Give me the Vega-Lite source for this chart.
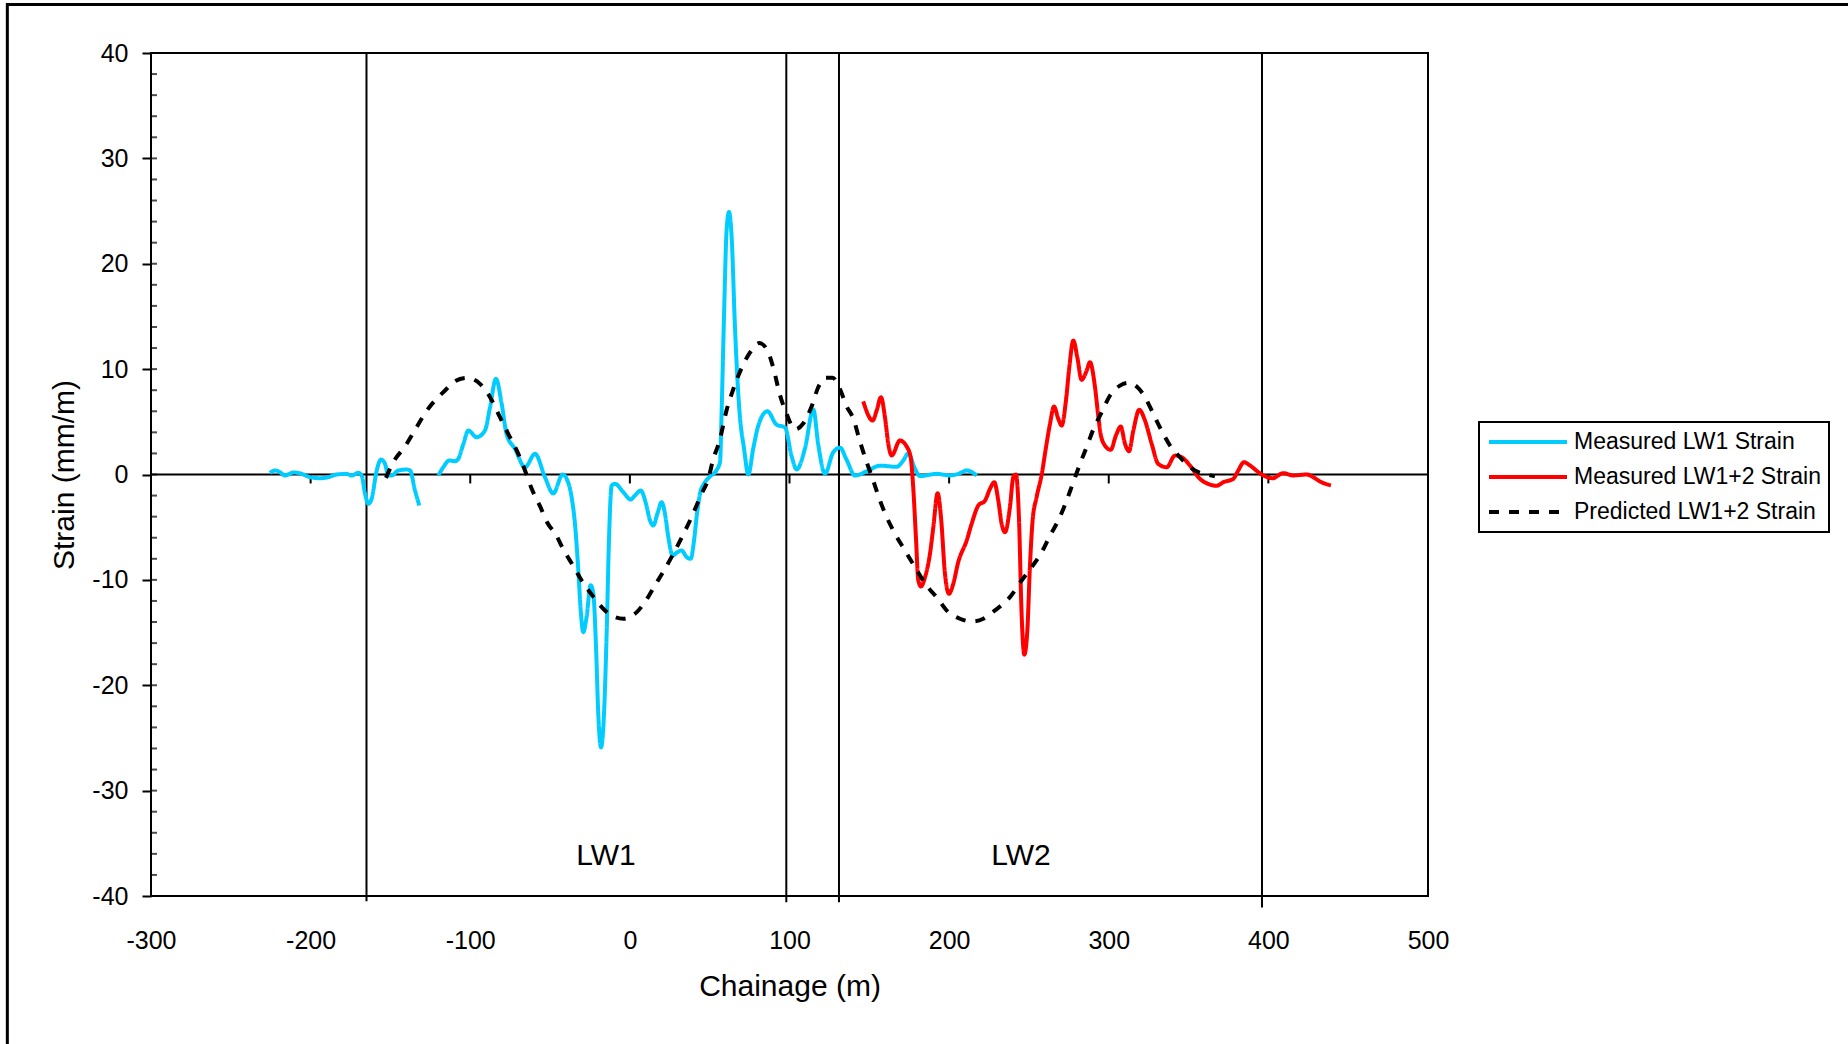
{
  "$schema": "https://vega.github.io/schema/vega-lite/v6.json",
  "autosize": {"type": "none"},
  "width": 1277,
  "height": 843,
  "padding": {"left": 151, "top": 53, "right": 420, "bottom": 148},
  "background": "white",
  "config": {
    "font": "Liberation Sans",
    "view": {"stroke": "black", "strokeWidth": 2},
    "axis": {"labelColor": "black", "titleColor": "black", "titleFontWeight": "normal", "grid": false},
    "legend": {"strokeWidth": 2}
  },
  "datasets": {
    "strain": [
      {"series": "Measured LW1 Strain", "seg": "a", "x": -225.5, "y": 0.16},
      {"series": "Measured LW1 Strain", "seg": "a", "x": -222.3, "y": 0.38},
      {"series": "Measured LW1 Strain", "seg": "a", "x": -219.2, "y": 0.22},
      {"series": "Measured LW1 Strain", "seg": "a", "x": -216.1, "y": -0.09},
      {"series": "Measured LW1 Strain", "seg": "a", "x": -210.8, "y": 0.19},
      {"series": "Measured LW1 Strain", "seg": "a", "x": -205.6, "y": 0.06},
      {"series": "Measured LW1 Strain", "seg": "a", "x": -200.4, "y": -0.25},
      {"series": "Measured LW1 Strain", "seg": "a", "x": -194.1, "y": -0.35},
      {"series": "Measured LW1 Strain", "seg": "a", "x": -188.9, "y": -0.25},
      {"series": "Measured LW1 Strain", "seg": "a", "x": -183.7, "y": 0.0},
      {"series": "Measured LW1 Strain", "seg": "a", "x": -177.4, "y": 0.06},
      {"series": "Measured LW1 Strain", "seg": "a", "x": -174.3, "y": -0.1},
      {"series": "Measured LW1 Strain", "seg": "a", "x": -170.1, "y": 0.16},
      {"series": "Measured LW1 Strain", "seg": "a", "x": -168.0, "y": -0.1},
      {"series": "Measured LW1 Strain", "seg": "a", "x": -165.9, "y": -1.83},
      {"series": "Measured LW1 Strain", "seg": "a", "x": -163.8, "y": -2.78},
      {"series": "Measured LW1 Strain", "seg": "a", "x": -161.8, "y": -2.31},
      {"series": "Measured LW1 Strain", "seg": "a", "x": -158.6, "y": 0.38},
      {"series": "Measured LW1 Strain", "seg": "a", "x": -155.9, "y": 1.42},
      {"series": "Measured LW1 Strain", "seg": "a", "x": -153.4, "y": 1.01},
      {"series": "Measured LW1 Strain", "seg": "a", "x": -151.3, "y": -0.09},
      {"series": "Measured LW1 Strain", "seg": "a", "x": -149.2, "y": -0.09},
      {"series": "Measured LW1 Strain", "seg": "a", "x": -145.1, "y": 0.38},
      {"series": "Measured LW1 Strain", "seg": "a", "x": -139.8, "y": 0.47},
      {"series": "Measured LW1 Strain", "seg": "a", "x": -137.7, "y": 0.38},
      {"series": "Measured LW1 Strain", "seg": "a", "x": -134.6, "y": -1.52},
      {"series": "Measured LW1 Strain", "seg": "a", "x": -131.9, "y": -2.94},
      {"series": "Measured LW1 Strain", "seg": "b", "x": -120.0, "y": -0.09},
      {"series": "Measured LW1 Strain", "seg": "b", "x": -116.9, "y": 0.69},
      {"series": "Measured LW1 Strain", "seg": "b", "x": -113.1, "y": 1.33},
      {"series": "Measured LW1 Strain", "seg": "b", "x": -109.6, "y": 1.26},
      {"series": "Measured LW1 Strain", "seg": "b", "x": -107.5, "y": 1.49},
      {"series": "Measured LW1 Strain", "seg": "b", "x": -104.3, "y": 2.91},
      {"series": "Measured LW1 Strain", "seg": "b", "x": -101.2, "y": 4.17},
      {"series": "Measured LW1 Strain", "seg": "b", "x": -96.0, "y": 3.54},
      {"series": "Measured LW1 Strain", "seg": "b", "x": -90.8, "y": 4.17},
      {"series": "Measured LW1 Strain", "seg": "b", "x": -87.6, "y": 6.39},
      {"series": "Measured LW1 Strain", "seg": "b", "x": -83.9, "y": 9.08},
      {"series": "Measured LW1 Strain", "seg": "b", "x": -80.3, "y": 6.7},
      {"series": "Measured LW1 Strain", "seg": "b", "x": -77.2, "y": 3.8},
      {"series": "Measured LW1 Strain", "seg": "b", "x": -72.0, "y": 2.44},
      {"series": "Measured LW1 Strain", "seg": "b", "x": -65.7, "y": 0.69},
      {"series": "Measured LW1 Strain", "seg": "b", "x": -59.4, "y": 1.96},
      {"series": "Measured LW1 Strain", "seg": "b", "x": -53.2, "y": -0.25},
      {"series": "Measured LW1 Strain", "seg": "b", "x": -48.0, "y": -1.8},
      {"series": "Measured LW1 Strain", "seg": "b", "x": -42.1, "y": 0.0},
      {"series": "Measured LW1 Strain", "seg": "b", "x": -39.6, "y": -0.41},
      {"series": "Measured LW1 Strain", "seg": "b", "x": -36.5, "y": -2.15},
      {"series": "Measured LW1 Strain", "seg": "b", "x": -34.4, "y": -4.68},
      {"series": "Measured LW1 Strain", "seg": "b", "x": -32.3, "y": -9.1},
      {"series": "Measured LW1 Strain", "seg": "b", "x": -30.8, "y": -12.9},
      {"series": "Measured LW1 Strain", "seg": "b", "x": -29.2, "y": -14.96},
      {"series": "Measured LW1 Strain", "seg": "b", "x": -27.1, "y": -13.5},
      {"series": "Measured LW1 Strain", "seg": "b", "x": -24.6, "y": -10.5},
      {"series": "Measured LW1 Strain", "seg": "b", "x": -22.9, "y": -11.3},
      {"series": "Measured LW1 Strain", "seg": "b", "x": -21.2, "y": -16.4},
      {"series": "Measured LW1 Strain", "seg": "b", "x": -19.8, "y": -22.7},
      {"series": "Measured LW1 Strain", "seg": "b", "x": -18.1, "y": -25.9},
      {"series": "Measured LW1 Strain", "seg": "b", "x": -16.2, "y": -22.7},
      {"series": "Measured LW1 Strain", "seg": "b", "x": -14.5, "y": -14.8},
      {"series": "Measured LW1 Strain", "seg": "b", "x": -13.1, "y": -6.26},
      {"series": "Measured LW1 Strain", "seg": "b", "x": -11.4, "y": -1.04},
      {"series": "Measured LW1 Strain", "seg": "b", "x": -9.3, "y": -0.89},
      {"series": "Measured LW1 Strain", "seg": "b", "x": -4.1, "y": -1.68},
      {"series": "Measured LW1 Strain", "seg": "b", "x": 0.5, "y": -2.37},
      {"series": "Measured LW1 Strain", "seg": "b", "x": 3.2, "y": -1.99},
      {"series": "Measured LW1 Strain", "seg": "b", "x": 6.8, "y": -1.52},
      {"series": "Measured LW1 Strain", "seg": "b", "x": 10.1, "y": -2.78},
      {"series": "Measured LW1 Strain", "seg": "b", "x": 12.6, "y": -4.36},
      {"series": "Measured LW1 Strain", "seg": "b", "x": 14.7, "y": -4.84},
      {"series": "Measured LW1 Strain", "seg": "b", "x": 17.2, "y": -3.73},
      {"series": "Measured LW1 Strain", "seg": "b", "x": 19.9, "y": -2.63},
      {"series": "Measured LW1 Strain", "seg": "b", "x": 22.0, "y": -3.73},
      {"series": "Measured LW1 Strain", "seg": "b", "x": 24.1, "y": -5.95},
      {"series": "Measured LW1 Strain", "seg": "b", "x": 26.8, "y": -7.69},
      {"series": "Measured LW1 Strain", "seg": "b", "x": 29.7, "y": -7.37},
      {"series": "Measured LW1 Strain", "seg": "b", "x": 32.4, "y": -7.21},
      {"series": "Measured LW1 Strain", "seg": "b", "x": 35.6, "y": -7.85},
      {"series": "Measured LW1 Strain", "seg": "b", "x": 38.1, "y": -8.0},
      {"series": "Measured LW1 Strain", "seg": "b", "x": 40.2, "y": -6.26},
      {"series": "Measured LW1 Strain", "seg": "b", "x": 41.8, "y": -4.05},
      {"series": "Measured LW1 Strain", "seg": "b", "x": 43.9, "y": -1.83},
      {"series": "Measured LW1 Strain", "seg": "b", "x": 46.4, "y": -0.89},
      {"series": "Measured LW1 Strain", "seg": "b", "x": 50.2, "y": -0.19},
      {"series": "Measured LW1 Strain", "seg": "b", "x": 54.4, "y": 0.44},
      {"series": "Measured LW1 Strain", "seg": "b", "x": 56.5, "y": 1.2},
      {"series": "Measured LW1 Strain", "seg": "b", "x": 57.5, "y": 6.1},
      {"series": "Measured LW1 Strain", "seg": "b", "x": 59.0, "y": 15.2},
      {"series": "Measured LW1 Strain", "seg": "b", "x": 60.6, "y": 23.2},
      {"series": "Measured LW1 Strain", "seg": "b", "x": 62.1, "y": 24.9},
      {"series": "Measured LW1 Strain", "seg": "b", "x": 63.8, "y": 22.4},
      {"series": "Measured LW1 Strain", "seg": "b", "x": 65.8, "y": 14.1},
      {"series": "Measured LW1 Strain", "seg": "b", "x": 68.6, "y": 6.1},
      {"series": "Measured LW1 Strain", "seg": "b", "x": 71.5, "y": 2.48},
      {"series": "Measured LW1 Strain", "seg": "b", "x": 74.2, "y": 0.0},
      {"series": "Measured LW1 Strain", "seg": "b", "x": 77.3, "y": 2.48},
      {"series": "Measured LW1 Strain", "seg": "b", "x": 80.5, "y": 4.66},
      {"series": "Measured LW1 Strain", "seg": "b", "x": 86.1, "y": 6.0},
      {"series": "Measured LW1 Strain", "seg": "b", "x": 91.9, "y": 4.73},
      {"series": "Measured LW1 Strain", "seg": "b", "x": 97.2, "y": 4.47},
      {"series": "Measured LW1 Strain", "seg": "b", "x": 101.3, "y": 1.75},
      {"series": "Measured LW1 Strain", "seg": "b", "x": 104.5, "y": 0.48},
      {"series": "Measured LW1 Strain", "seg": "b", "x": 109.7, "y": 2.48},
      {"series": "Measured LW1 Strain", "seg": "b", "x": 114.9, "y": 6.18},
      {"series": "Measured LW1 Strain", "seg": "b", "x": 118.0, "y": 2.85},
      {"series": "Measured LW1 Strain", "seg": "b", "x": 122.2, "y": 0.07},
      {"series": "Measured LW1 Strain", "seg": "b", "x": 127.4, "y": 2.11},
      {"series": "Measured LW1 Strain", "seg": "b", "x": 131.6, "y": 2.55},
      {"series": "Measured LW1 Strain", "seg": "b", "x": 135.8, "y": 1.39},
      {"series": "Measured LW1 Strain", "seg": "b", "x": 141.0, "y": -0.1},
      {"series": "Measured LW1 Strain", "seg": "b", "x": 148.3, "y": 0.3},
      {"series": "Measured LW1 Strain", "seg": "b", "x": 156.7, "y": 0.84},
      {"series": "Measured LW1 Strain", "seg": "b", "x": 167.1, "y": 0.73},
      {"series": "Measured LW1 Strain", "seg": "b", "x": 171.3, "y": 1.33},
      {"series": "Measured LW1 Strain", "seg": "b", "x": 174.4, "y": 2.0},
      {"series": "Measured LW1 Strain", "seg": "b", "x": 178.6, "y": 0.54},
      {"series": "Measured LW1 Strain", "seg": "b", "x": 181.7, "y": -0.15},
      {"series": "Measured LW1 Strain", "seg": "b", "x": 192.2, "y": 0.06},
      {"series": "Measured LW1 Strain", "seg": "b", "x": 200.5, "y": -0.09},
      {"series": "Measured LW1 Strain", "seg": "b", "x": 205.7, "y": 0.06},
      {"series": "Measured LW1 Strain", "seg": "b", "x": 211.0, "y": 0.38},
      {"series": "Measured LW1 Strain", "seg": "b", "x": 217.3, "y": -0.09},
      {"series": "Measured LW1+2 Strain", "seg": "c", "x": 146.2, "y": 6.93},
      {"series": "Measured LW1+2 Strain", "seg": "c", "x": 152.1, "y": 5.12},
      {"series": "Measured LW1+2 Strain", "seg": "c", "x": 154.6, "y": 6.07},
      {"series": "Measured LW1+2 Strain", "seg": "c", "x": 157.3, "y": 7.34},
      {"series": "Measured LW1+2 Strain", "seg": "c", "x": 159.8, "y": 5.44},
      {"series": "Measured LW1+2 Strain", "seg": "c", "x": 161.9, "y": 2.91},
      {"series": "Measured LW1+2 Strain", "seg": "c", "x": 164.0, "y": 1.8},
      {"series": "Measured LW1+2 Strain", "seg": "c", "x": 169.2, "y": 3.23},
      {"series": "Measured LW1+2 Strain", "seg": "c", "x": 173.4, "y": 2.66},
      {"series": "Measured LW1+2 Strain", "seg": "c", "x": 175.9, "y": 1.64},
      {"series": "Measured LW1+2 Strain", "seg": "c", "x": 177.5, "y": -1.2},
      {"series": "Measured LW1+2 Strain", "seg": "c", "x": 179.2, "y": -5.95},
      {"series": "Measured LW1+2 Strain", "seg": "c", "x": 180.7, "y": -10.06},
      {"series": "Measured LW1+2 Strain", "seg": "c", "x": 182.4, "y": -10.63},
      {"series": "Measured LW1+2 Strain", "seg": "c", "x": 184.9, "y": -9.74},
      {"series": "Measured LW1+2 Strain", "seg": "c", "x": 188.0, "y": -7.53},
      {"series": "Measured LW1+2 Strain", "seg": "c", "x": 190.1, "y": -5.0},
      {"series": "Measured LW1+2 Strain", "seg": "c", "x": 192.8, "y": -1.77},
      {"series": "Measured LW1+2 Strain", "seg": "c", "x": 194.9, "y": -4.05},
      {"series": "Measured LW1+2 Strain", "seg": "c", "x": 197.4, "y": -9.42},
      {"series": "Measured LW1+2 Strain", "seg": "c", "x": 199.9, "y": -11.32},
      {"series": "Measured LW1+2 Strain", "seg": "c", "x": 202.6, "y": -10.37},
      {"series": "Measured LW1+2 Strain", "seg": "c", "x": 205.7, "y": -8.32},
      {"series": "Measured LW1+2 Strain", "seg": "c", "x": 211.0, "y": -6.26},
      {"series": "Measured LW1+2 Strain", "seg": "c", "x": 214.1, "y": -4.68},
      {"series": "Measured LW1+2 Strain", "seg": "c", "x": 218.3, "y": -2.94},
      {"series": "Measured LW1+2 Strain", "seg": "c", "x": 222.5, "y": -2.47},
      {"series": "Measured LW1+2 Strain", "seg": "c", "x": 225.6, "y": -1.36},
      {"series": "Measured LW1+2 Strain", "seg": "c", "x": 228.3, "y": -0.73},
      {"series": "Measured LW1+2 Strain", "seg": "c", "x": 230.8, "y": -2.47},
      {"series": "Measured LW1+2 Strain", "seg": "c", "x": 232.9, "y": -4.68},
      {"series": "Measured LW1+2 Strain", "seg": "c", "x": 235.0, "y": -5.47},
      {"series": "Measured LW1+2 Strain", "seg": "c", "x": 238.1, "y": -3.1},
      {"series": "Measured LW1+2 Strain", "seg": "c", "x": 240.2, "y": -0.25},
      {"series": "Measured LW1+2 Strain", "seg": "c", "x": 241.9, "y": 0.0},
      {"series": "Measured LW1+2 Strain", "seg": "c", "x": 243.8, "y": -4.36},
      {"series": "Measured LW1+2 Strain", "seg": "c", "x": 245.4, "y": -13.2},
      {"series": "Measured LW1+2 Strain", "seg": "c", "x": 247.1, "y": -17.1},
      {"series": "Measured LW1+2 Strain", "seg": "c", "x": 249.0, "y": -14.8},
      {"series": "Measured LW1+2 Strain", "seg": "c", "x": 250.6, "y": -8.79},
      {"series": "Measured LW1+2 Strain", "seg": "c", "x": 252.3, "y": -4.36},
      {"series": "Measured LW1+2 Strain", "seg": "c", "x": 254.8, "y": -2.15},
      {"series": "Measured LW1+2 Strain", "seg": "c", "x": 258.0, "y": 0.0},
      {"series": "Measured LW1+2 Strain", "seg": "c", "x": 260.7, "y": 2.59},
      {"series": "Measured LW1+2 Strain", "seg": "c", "x": 263.2, "y": 4.81},
      {"series": "Measured LW1+2 Strain", "seg": "c", "x": 265.7, "y": 6.45},
      {"series": "Measured LW1+2 Strain", "seg": "c", "x": 268.4, "y": 5.28},
      {"series": "Measured LW1+2 Strain", "seg": "c", "x": 270.5, "y": 4.65},
      {"series": "Measured LW1+2 Strain", "seg": "c", "x": 273.2, "y": 7.02},
      {"series": "Measured LW1+2 Strain", "seg": "c", "x": 275.3, "y": 10.18},
      {"series": "Measured LW1+2 Strain", "seg": "c", "x": 277.8, "y": 12.71},
      {"series": "Measured LW1+2 Strain", "seg": "c", "x": 280.3, "y": 11.13},
      {"series": "Measured LW1+2 Strain", "seg": "c", "x": 283.0, "y": 8.98},
      {"series": "Measured LW1+2 Strain", "seg": "c", "x": 286.2, "y": 9.87},
      {"series": "Measured LW1+2 Strain", "seg": "c", "x": 288.2, "y": 10.66},
      {"series": "Measured LW1+2 Strain", "seg": "c", "x": 291.4, "y": 8.28},
      {"series": "Measured LW1+2 Strain", "seg": "c", "x": 293.4, "y": 5.6},
      {"series": "Measured LW1+2 Strain", "seg": "c", "x": 294.9, "y": 3.86},
      {"series": "Measured LW1+2 Strain", "seg": "c", "x": 297.6, "y": 2.75},
      {"series": "Measured LW1+2 Strain", "seg": "c", "x": 301.2, "y": 2.34},
      {"series": "Measured LW1+2 Strain", "seg": "c", "x": 304.5, "y": 3.7},
      {"series": "Measured LW1+2 Strain", "seg": "c", "x": 307.5, "y": 4.55},
      {"series": "Measured LW1+2 Strain", "seg": "c", "x": 310.2, "y": 2.91},
      {"series": "Measured LW1+2 Strain", "seg": "c", "x": 312.7, "y": 2.21},
      {"series": "Measured LW1+2 Strain", "seg": "c", "x": 315.4, "y": 4.17},
      {"series": "Measured LW1+2 Strain", "seg": "c", "x": 319.1, "y": 6.14},
      {"series": "Measured LW1+2 Strain", "seg": "c", "x": 322.7, "y": 5.12},
      {"series": "Measured LW1+2 Strain", "seg": "c", "x": 326.9, "y": 2.91},
      {"series": "Measured LW1+2 Strain", "seg": "c", "x": 331.0, "y": 1.01},
      {"series": "Measured LW1+2 Strain", "seg": "c", "x": 336.3, "y": 0.69},
      {"series": "Measured LW1+2 Strain", "seg": "c", "x": 341.5, "y": 1.8},
      {"series": "Measured LW1+2 Strain", "seg": "c", "x": 345.7, "y": 1.64},
      {"series": "Measured LW1+2 Strain", "seg": "c", "x": 350.9, "y": 0.85},
      {"series": "Measured LW1+2 Strain", "seg": "c", "x": 357.1, "y": -0.41},
      {"series": "Measured LW1+2 Strain", "seg": "c", "x": 362.3, "y": -0.89},
      {"series": "Measured LW1+2 Strain", "seg": "c", "x": 367.6, "y": -1.07},
      {"series": "Measured LW1+2 Strain", "seg": "c", "x": 371.8, "y": -0.73},
      {"series": "Measured LW1+2 Strain", "seg": "c", "x": 378.0, "y": -0.41},
      {"series": "Measured LW1+2 Strain", "seg": "c", "x": 381.1, "y": 0.38},
      {"series": "Measured LW1+2 Strain", "seg": "c", "x": 384.7, "y": 1.17},
      {"series": "Measured LW1+2 Strain", "seg": "c", "x": 388.5, "y": 0.85},
      {"series": "Measured LW1+2 Strain", "seg": "c", "x": 395.8, "y": 0.0},
      {"series": "Measured LW1+2 Strain", "seg": "c", "x": 402.7, "y": -0.35},
      {"series": "Measured LW1+2 Strain", "seg": "c", "x": 409.3, "y": 0.13},
      {"series": "Measured LW1+2 Strain", "seg": "c", "x": 415.6, "y": -0.09},
      {"series": "Measured LW1+2 Strain", "seg": "c", "x": 424.0, "y": 0.0},
      {"series": "Measured LW1+2 Strain", "seg": "c", "x": 428.1, "y": -0.25},
      {"series": "Measured LW1+2 Strain", "seg": "c", "x": 432.3, "y": -0.66},
      {"series": "Measured LW1+2 Strain", "seg": "c", "x": 439.2, "y": -1.04},
      {"series": "Predicted LW1+2 Strain", "seg": "d", "x": -152.8, "y": -0.32},
      {"series": "Predicted LW1+2 Strain", "seg": "d", "x": -148.2, "y": 1.17},
      {"series": "Predicted LW1+2 Strain", "seg": "d", "x": -140.9, "y": 2.66},
      {"series": "Predicted LW1+2 Strain", "seg": "d", "x": -134.2, "y": 4.33},
      {"series": "Predicted LW1+2 Strain", "seg": "d", "x": -127.9, "y": 5.91},
      {"series": "Predicted LW1+2 Strain", "seg": "d", "x": -122.1, "y": 7.02},
      {"series": "Predicted LW1+2 Strain", "seg": "d", "x": -115.8, "y": 7.97},
      {"series": "Predicted LW1+2 Strain", "seg": "d", "x": -109.6, "y": 8.85},
      {"series": "Predicted LW1+2 Strain", "seg": "d", "x": -102.2, "y": 9.17},
      {"series": "Predicted LW1+2 Strain", "seg": "d", "x": -93.9, "y": 8.6},
      {"series": "Predicted LW1+2 Strain", "seg": "d", "x": -87.6, "y": 7.34},
      {"series": "Predicted LW1+2 Strain", "seg": "d", "x": -81.4, "y": 5.44},
      {"series": "Predicted LW1+2 Strain", "seg": "d", "x": -76.2, "y": 3.86},
      {"series": "Predicted LW1+2 Strain", "seg": "d", "x": -69.9, "y": 1.96},
      {"series": "Predicted LW1+2 Strain", "seg": "d", "x": -65.7, "y": 0.38},
      {"series": "Predicted LW1+2 Strain", "seg": "d", "x": -61.5, "y": -1.36},
      {"series": "Predicted LW1+2 Strain", "seg": "d", "x": -56.3, "y": -3.0},
      {"series": "Predicted LW1+2 Strain", "seg": "d", "x": -51.6, "y": -4.6},
      {"series": "Predicted LW1+2 Strain", "seg": "d", "x": -46.4, "y": -5.7},
      {"series": "Predicted LW1+2 Strain", "seg": "d", "x": -41.7, "y": -7.1},
      {"series": "Predicted LW1+2 Strain", "seg": "d", "x": -35.4, "y": -8.7},
      {"series": "Predicted LW1+2 Strain", "seg": "d", "x": -30.2, "y": -10.06},
      {"series": "Predicted LW1+2 Strain", "seg": "d", "x": -22.9, "y": -11.6},
      {"series": "Predicted LW1+2 Strain", "seg": "d", "x": -16.7, "y": -12.74},
      {"series": "Predicted LW1+2 Strain", "seg": "d", "x": -10.4, "y": -13.47},
      {"series": "Predicted LW1+2 Strain", "seg": "d", "x": -4.1, "y": -13.69},
      {"series": "Predicted LW1+2 Strain", "seg": "d", "x": 4.3, "y": -13.06},
      {"series": "Predicted LW1+2 Strain", "seg": "d", "x": 10.1, "y": -11.95},
      {"series": "Predicted LW1+2 Strain", "seg": "d", "x": 15.7, "y": -10.53},
      {"series": "Predicted LW1+2 Strain", "seg": "d", "x": 21.4, "y": -9.1},
      {"series": "Predicted LW1+2 Strain", "seg": "d", "x": 27.2, "y": -7.53},
      {"series": "Predicted LW1+2 Strain", "seg": "d", "x": 33.1, "y": -5.79},
      {"series": "Predicted LW1+2 Strain", "seg": "d", "x": 39.1, "y": -3.89},
      {"series": "Predicted LW1+2 Strain", "seg": "d", "x": 44.4, "y": -1.99},
      {"series": "Predicted LW1+2 Strain", "seg": "d", "x": 49.1, "y": -0.41},
      {"series": "Predicted LW1+2 Strain", "seg": "d", "x": 52.3, "y": 1.49},
      {"series": "Predicted LW1+2 Strain", "seg": "d", "x": 56.2, "y": 3.2},
      {"series": "Predicted LW1+2 Strain", "seg": "d", "x": 60.6, "y": 6.11},
      {"series": "Predicted LW1+2 Strain", "seg": "d", "x": 64.8, "y": 8.1},
      {"series": "Predicted LW1+2 Strain", "seg": "d", "x": 70.0, "y": 10.1},
      {"series": "Predicted LW1+2 Strain", "seg": "d", "x": 75.2, "y": 11.56},
      {"series": "Predicted LW1+2 Strain", "seg": "d", "x": 81.1, "y": 12.47},
      {"series": "Predicted LW1+2 Strain", "seg": "d", "x": 85.7, "y": 11.92},
      {"series": "Predicted LW1+2 Strain", "seg": "d", "x": 89.9, "y": 10.1},
      {"series": "Predicted LW1+2 Strain", "seg": "d", "x": 94.0, "y": 7.56},
      {"series": "Predicted LW1+2 Strain", "seg": "d", "x": 98.2, "y": 5.75},
      {"series": "Predicted LW1+2 Strain", "seg": "d", "x": 103.4, "y": 4.29},
      {"series": "Predicted LW1+2 Strain", "seg": "d", "x": 108.6, "y": 4.84},
      {"series": "Predicted LW1+2 Strain", "seg": "d", "x": 113.9, "y": 6.47},
      {"series": "Predicted LW1+2 Strain", "seg": "d", "x": 118.0, "y": 8.28},
      {"series": "Predicted LW1+2 Strain", "seg": "d", "x": 122.9, "y": 9.19},
      {"series": "Predicted LW1+2 Strain", "seg": "d", "x": 127.0, "y": 9.19},
      {"series": "Predicted LW1+2 Strain", "seg": "d", "x": 131.6, "y": 8.1},
      {"series": "Predicted LW1+2 Strain", "seg": "d", "x": 135.8, "y": 6.47},
      {"series": "Predicted LW1+2 Strain", "seg": "d", "x": 140.0, "y": 5.3},
      {"series": "Predicted LW1+2 Strain", "seg": "d", "x": 144.2, "y": 3.1},
      {"series": "Predicted LW1+2 Strain", "seg": "d", "x": 148.3, "y": 1.2},
      {"series": "Predicted LW1+2 Strain", "seg": "d", "x": 152.5, "y": -0.6},
      {"series": "Predicted LW1+2 Strain", "seg": "d", "x": 156.7, "y": -2.47},
      {"series": "Predicted LW1+2 Strain", "seg": "d", "x": 160.9, "y": -4.05},
      {"series": "Predicted LW1+2 Strain", "seg": "d", "x": 165.0, "y": -5.31},
      {"series": "Predicted LW1+2 Strain", "seg": "d", "x": 172.3, "y": -7.21},
      {"series": "Predicted LW1+2 Strain", "seg": "d", "x": 178.6, "y": -8.79},
      {"series": "Predicted LW1+2 Strain", "seg": "d", "x": 185.9, "y": -10.55},
      {"series": "Predicted LW1+2 Strain", "seg": "d", "x": 192.2, "y": -11.64},
      {"series": "Predicted LW1+2 Strain", "seg": "d", "x": 199.5, "y": -13.06},
      {"series": "Predicted LW1+2 Strain", "seg": "d", "x": 206.8, "y": -13.69},
      {"series": "Predicted LW1+2 Strain", "seg": "d", "x": 214.1, "y": -13.95},
      {"series": "Predicted LW1+2 Strain", "seg": "d", "x": 221.4, "y": -13.69},
      {"series": "Predicted LW1+2 Strain", "seg": "d", "x": 228.7, "y": -12.9},
      {"series": "Predicted LW1+2 Strain", "seg": "d", "x": 238.1, "y": -11.64},
      {"series": "Predicted LW1+2 Strain", "seg": "d", "x": 245.4, "y": -10.06},
      {"series": "Predicted LW1+2 Strain", "seg": "d", "x": 251.7, "y": -8.79},
      {"series": "Predicted LW1+2 Strain", "seg": "d", "x": 258.0, "y": -7.37},
      {"series": "Predicted LW1+2 Strain", "seg": "d", "x": 263.2, "y": -5.79},
      {"series": "Predicted LW1+2 Strain", "seg": "d", "x": 268.4, "y": -4.36},
      {"series": "Predicted LW1+2 Strain", "seg": "d", "x": 273.2, "y": -2.63},
      {"series": "Predicted LW1+2 Strain", "seg": "d", "x": 277.4, "y": -0.89},
      {"series": "Predicted LW1+2 Strain", "seg": "d", "x": 282.0, "y": 1.01},
      {"series": "Predicted LW1+2 Strain", "seg": "d", "x": 286.5, "y": 2.75},
      {"series": "Predicted LW1+2 Strain", "seg": "d", "x": 290.4, "y": 4.3},
      {"series": "Predicted LW1+2 Strain", "seg": "d", "x": 295.6, "y": 5.91},
      {"series": "Predicted LW1+2 Strain", "seg": "d", "x": 300.8, "y": 7.5},
      {"series": "Predicted LW1+2 Strain", "seg": "d", "x": 307.0, "y": 8.44},
      {"series": "Predicted LW1+2 Strain", "seg": "d", "x": 312.2, "y": 8.7},
      {"series": "Predicted LW1+2 Strain", "seg": "d", "x": 317.5, "y": 8.35},
      {"series": "Predicted LW1+2 Strain", "seg": "d", "x": 322.7, "y": 7.34},
      {"series": "Predicted LW1+2 Strain", "seg": "d", "x": 327.9, "y": 5.76},
      {"series": "Predicted LW1+2 Strain", "seg": "d", "x": 333.1, "y": 4.17},
      {"series": "Predicted LW1+2 Strain", "seg": "d", "x": 338.4, "y": 2.75},
      {"series": "Predicted LW1+2 Strain", "seg": "d", "x": 343.6, "y": 1.8},
      {"series": "Predicted LW1+2 Strain", "seg": "d", "x": 349.8, "y": 0.85},
      {"series": "Predicted LW1+2 Strain", "seg": "d", "x": 356.1, "y": 0.22},
      {"series": "Predicted LW1+2 Strain", "seg": "d", "x": 361.3, "y": 0.0},
      {"series": "Predicted LW1+2 Strain", "seg": "d", "x": 366.5, "y": -0.16}
    ],
    "panels": [
      {"x": -165, "top": 40, "bottom": -40.5},
      {"x": 98, "top": 40, "bottom": -40.6},
      {"x": 131, "top": 40, "bottom": -40.6},
      {"x": 396, "top": 40, "bottom": -41.1}
    ],
    "zeroline": [{"from": -300, "to": 500, "y": 0}],
    "xticks": [
      {"x": -200, "y": 0, "y2": -0.85},
      {"x": -100, "y": 0, "y2": -0.85},
      {"x": 0, "y": 0, "y2": -0.85},
      {"x": 100, "y": 0, "y2": -0.85},
      {"x": 200, "y": 0, "y2": -0.85},
      {"x": 300, "y": 0, "y2": -0.85},
      {"x": 400, "y": 0, "y2": -0.85}
    ],
    "yticks": [
      {"y": -38}, {"y": -36}, {"y": -34}, {"y": -32}, {"y": -30}, {"y": -28}, {"y": -26}, {"y": -24}, {"y": -22}, {"y": -20},
      {"y": -18}, {"y": -16}, {"y": -14}, {"y": -12}, {"y": -10}, {"y": -8}, {"y": -6}, {"y": -4}, {"y": -2}, {"y": 0},
      {"y": 2}, {"y": 4}, {"y": 6}, {"y": 8}, {"y": 10}, {"y": 12}, {"y": 14}, {"y": 16}, {"y": 18}, {"y": 20},
      {"y": 22}, {"y": 24}, {"y": 26}, {"y": 28}, {"y": 30}, {"y": 32}, {"y": 34}, {"y": 36}, {"y": 38}
    ],
    "labels": [
      {"x": -15, "y": -36.2, "text": "LW1"},
      {"x": 245, "y": -36.2, "text": "LW2"}
    ],
    "frame": [{"x": -390, "x2": 900, "y": 44.6, "y2": -60}]
  },
  "layer": [
    {
      "data": {"name": "frame"},
      "mark": {"type": "rect", "filled": false, "stroke": "black", "strokeWidth": 3, "clip": false},
      "encoding": {
        "x": {"field": "x", "type": "quantitative", "scale": {"domain": [-300, 500], "nice": false, "zero": false}, "axis": {"orient": "bottom", "values": [-300, -200, -100, 0, 100, 200, 300, 400, 500], "labelExpr": "'' + datum.value", "title": "Chainage (m)", "titleFontSize": 30, "titlePadding": 18, "labelFontSize": 25, "labelPadding": 32, "ticks": false, "domain": false, "labelFlush": false}},
        "x2": {"field": "x2"},
        "y": {"field": "y", "type": "quantitative", "scale": {"domain": [-40, 40], "nice": false, "zero": false}, "axis": {"orient": "left", "values": [-40, -30, -20, -10, 0, 10, 20, 30, 40], "labelExpr": "'' + datum.value", "title": "Strain (mm/m)", "titleFontSize": 30, "titlePadding": 12, "labelFontSize": 25, "labelPadding": 14, "tickSize": 9, "tickWidth": 2, "tickColor": "black", "domain": false, "labelFlush": false}},
        "y2": {"field": "y2"}
      }
    },
    {
      "data": {"name": "zeroline"},
      "mark": {"type": "rule", "color": "black", "strokeWidth": 2},
      "encoding": {
        "x": {"field": "from", "type": "quantitative"},
        "x2": {"field": "to"},
        "y": {"field": "y", "type": "quantitative"}
      }
    },
    {
      "data": {"name": "xticks"},
      "mark": {"type": "rule", "color": "black", "strokeWidth": 2},
      "encoding": {
        "x": {"field": "x", "type": "quantitative"},
        "y": {"field": "y", "type": "quantitative"},
        "y2": {"field": "y2"}
      }
    },
    {
      "data": {"name": "yticks"},
      "mark": {"type": "tick", "color": "black", "thickness": 2, "size": 6, "xOffset": 3, "orient": "horizontal"},
      "encoding": {
        "x": {"datum": -300, "type": "quantitative"},
        "y": {"field": "y", "type": "quantitative"}
      }
    },
    {
      "data": {"name": "panels"},
      "mark": {"type": "rule", "color": "black", "strokeWidth": 2, "clip": false},
      "encoding": {
        "x": {"field": "x", "type": "quantitative"},
        "y": {"field": "top", "type": "quantitative"},
        "y2": {"field": "bottom"}
      }
    },
    {
      "data": {"name": "strain"},
      "mark": {"type": "line", "strokeCap": "butt", "strokeJoin": "round", "interpolate": "monotone"},
      "encoding": {
        "x": {"field": "x", "type": "quantitative"},
        "y": {"field": "y", "type": "quantitative"},
        "detail": {"field": "seg"},
        "color": {
          "field": "series", "type": "nominal",
          "scale": {"domain": ["Measured LW1 Strain", "Measured LW1+2 Strain", "Predicted LW1+2 Strain"], "range": ["#00CCFF", "#FF0000", "#000000"]},
          "legend": {"title": null, "orient": "none", "legendX": 1328, "legendY": 369, "strokeColor": "black", "padding": 8, "labelFontSize": 23, "labelLimit": 400, "labelColor": "black", "symbolType": "stroke", "symbolSize": 6084, "symbolStrokeWidth": 4, "labelOffset": 5, "clipHeight": 24, "rowPadding": 11, "fillColor": "white"}
        },
        "strokeDash": {
          "field": "series", "type": "nominal",
          "scale": {"domain": ["Measured LW1 Strain", "Measured LW1+2 Strain", "Predicted LW1+2 Strain"], "range": [[1, 0], [1, 0], [10, 10]]},
          "legend": null
        },
        "strokeWidth": {
          "field": "series", "type": "nominal",
          "scale": {"domain": ["Measured LW1 Strain", "Measured LW1+2 Strain", "Predicted LW1+2 Strain"], "range": [4, 4, 4.5]},
          "legend": null
        }
      }
    },
    {
      "data": {"name": "labels"},
      "mark": {"type": "text", "fontSize": 30, "color": "black", "align": "center", "baseline": "middle"},
      "encoding": {
        "x": {"field": "x", "type": "quantitative"},
        "y": {"field": "y", "type": "quantitative"},
        "text": {"field": "text"}
      }
    }
  ]
}
